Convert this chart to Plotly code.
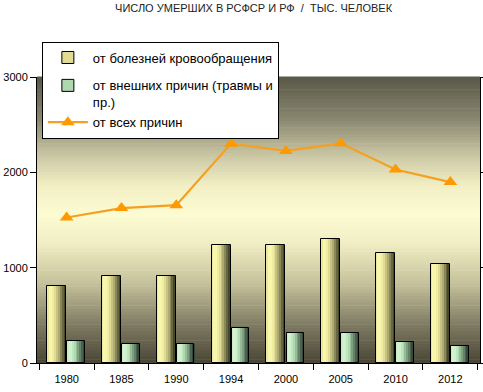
import plotly.graph_objects as go

# ---- data ----
years = ["1980", "1985", "1990", "1994", "2000", "2005", "2010", "2012"]
circulatory = [810, 915, 915, 1235, 1235, 1305, 1158, 1042]
external = [231, 199, 199, 364, 312, 312, 217, 175]
total = [1526, 1625, 1656, 2301, 2225, 2304, 2029, 1898]
y_ticks = [0, 1000, 2000, 3000]

name_circ = "от болезней кровообращения"
name_ext = "от внешних причин (травмы и<br>пр.)"
name_total = "от всех причин"
title_text = "ЧИСЛО УМЕРШИХ В РСФСР И РФ  /  ТЫС. ЧЕЛОВЕК"


def hex2rgb(h):
    h = h.lstrip("#")
    return tuple(int(h[i:i + 2], 16) for i in (0, 2, 4))


def interp(stops, t):
    for (t0, c0), (t1, c1) in zip(stops[:-1], stops[1:]):
        if t0 <= t <= t1:
            a = (t - t0) / (t1 - t0) if t1 > t0 else 0
            r0, g0, b0 = hex2rgb(c0)
            r1, g1, b1 = hex2rgb(c1)
            return "rgb(%d,%d,%d)" % (round(r0 + (r1 - r0) * a), round(g0 + (g1 - g0) * a), round(b0 + (b1 - b0) * a))
    return stops[-1][1]


bg_stops = [(0.0, "#4a4636"), (0.12, "#79755e"), (0.28, "#c6c29c"), (0.42, "#f1eec4"),
            (0.52, "#fdfbd2"), (0.62, "#f2efc4"), (0.72, "#cdc9a6"), (0.85, "#8a8870"), (1.0, "#585846")]
yel_stops = [(0.0, "#e4e094"), (0.18, "#fcfcb4"), (0.4, "#ece89c"), (0.65, "#aeaa72"), (0.85, "#66663f"), (1.0, "#38381f")]
grn_stops = [(0.0, "#c4e8c0"), (0.2, "#d8f6d4"), (0.45, "#b0d8b0"), (0.7, "#6f9274"), (0.88, "#45584a"), (1.0, "#2c3a30")]

fig = go.Figure()

N = 10


def add_bar(values, name, stops, off, wid, rank, group):
    sw = wid / N
    for i in range(N):
        fig.add_trace(go.Bar(
            x=years, y=values, name=name,
            offset=off + i * sw, width=sw * 1.02,
            marker=dict(color=interp(stops, (i + 0.5) / N), line=dict(width=0)),
            showlegend=False, hoverinfo="skip"))
    fig.add_trace(go.Bar(
        x=years, y=values, name=name, offset=off, width=wid,
        marker=dict(color="rgba(0,0,0,0)", line=dict(color="black", width=1)),
        showlegend=False))
    # legend entry
    fig.add_trace(go.Bar(
        x=[None], y=[None], name=name, legendrank=rank, legendgroup=group,
        marker=dict(color=interp(stops, 0.45), line=dict(color="black", width=1)),
        showlegend=True))


add_bar(circulatory, name_circ, yel_stops, -0.355, 0.345, 1, "a")
add_bar(external, name_ext, grn_stops, 0.012, 0.32, 2, "b")

fig.add_trace(go.Scatter(
    x=years, y=total, name=name_total, mode="lines+markers", legendrank=3, legendgroup="b",
    line=dict(color="#f5a020", width=2.2),
    marker=dict(symbol="triangle-up", size=12, color="#ff9900", line=dict(width=0))))

shapes = []
NB = 90
for k in range(NB):
    shapes.append(dict(type="rect", xref="x domain", yref="y domain",
                       x0=0, x1=1, y0=k / NB, y1=(k + 1) / NB + 0.002,
                       fillcolor=interp(bg_stops, (k + 0.5) / NB),
                       line=dict(width=0), layer="below"))

fig.update_layout(
    width=483, height=392,
    margin=dict(l=37, r=3, t=77, b=29, autoexpand=False),
    paper_bgcolor="white", plot_bgcolor="white",
    barmode="overlay",
    shapes=shapes,
    font=dict(family="Liberation Sans, Arial, sans-serif", color="black", size=11),
    title=dict(text=title_text, x=0.525, xanchor="center", y=0.99, yanchor="top",
               font=dict(size=11, color="#222")),
    legend=dict(x=0.011, y=1.124, xanchor="left", yanchor="top",
                bgcolor="white", bordercolor="black", borderwidth=1,
                font=dict(size=13, family="Liberation Sans, Arial"),
                traceorder="grouped", tracegroupgap=8, itemwidth=40, valign="top"),
    xaxis=dict(type="category", showgrid=False, showline=True, linecolor="black", linewidth=1,
               ticks="outside", ticklen=6, tickcolor="black", tickson="boundaries",
               tickfont=dict(size=11), mirror=False, fixedrange=True, automargin=False,
               ticklabelstandoff=6),
    yaxis=dict(range=[0, 3000], tickvals=y_ticks, showgrid=False, zeroline=False,
               showline=True, linecolor="black", linewidth=1, mirror="ticks",
               ticks="outside", ticklen=6, tickcolor="black", tickfont=dict(size=11),
               automargin=False, fixedrange=True),
    bargap=0,
)

fig.write_html("out.html", config={"displayModeBar": False},
               post_script="document.body.style.margin='0';document.body.style.overflow='hidden';")
